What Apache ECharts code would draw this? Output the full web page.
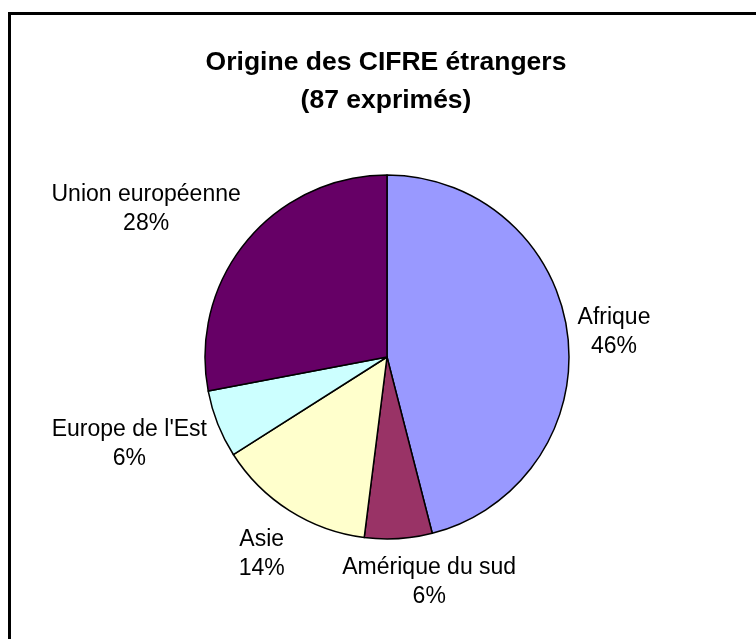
<!DOCTYPE html>
<html>
<head>
<meta charset="utf-8">
<title>Origine des CIFRE étrangers</title>
<script src="https://cdn.jsdelivr.net/npm/echarts@6/dist/echarts.min.js"></script>
<style>
  html, body { margin: 0; padding: 0; background: #fff; }
  #chart { width: 756px; height: 639px; }
</style>
</head>
<body>
<div id="chart"></div>
<script>
// chart data
const categories = ['Afrique', 'Amérique du sud', 'Asie', "Europe de l'Est", 'Union européenne'];
const percents = [46, 6, 14, 6, 28];
const sliceColors = ['#9999FF', '#993366', '#FFFFCC', '#CCFFFF', '#660066'];
const titleText = 'Origine des CIFRE étrangers\n(87 exprimés)';

// pie geometry (px)
const CX = 387, CY = 357, R = 182;
// excel puts its labels a bit irregularly: extra gap / angle tweak per label
const labelGap = [7, 3, 15, 7, 5];
const labelTurn = [1, -7, 0, 3, -8];

const chart = echarts.init(document.getElementById('chart'), null, { renderer: 'canvas' });

const total = percents.reduce((a, b) => a + b, 0);

chart.setOption({
  animation: false,
  backgroundColor: '#fff',
  title: {
    text: titleText,
    left: 386,
    top: 44,
    padding: 0,
    textAlign: 'center',
    textStyle: {
      fontFamily: 'Liberation Sans',
      fontSize: 26.5,
      fontWeight: 'bold',
      color: '#000',
      lineHeight: 38
    }
  },
  graphic: [{
    type: 'rect',
    silent: true,
    shape: { x: 9.5, y: 13.5, width: 800, height: 700 },
    style: { fill: 'none', stroke: '#000', lineWidth: 3 }
  }],
  series: [{
    type: 'pie',
    center: [CX, CY],
    radius: R,
    startAngle: 90,
    clockwise: true,
    percentPrecision: 0,
    avoidLabelOverlap: false,
    itemStyle: { borderColor: '#000', borderWidth: 1.5 },
    label: {
      show: true,
      position: 'outside',
      formatter: '{b}\n{d}%',
      fontFamily: 'Liberation Sans',
      fontSize: 23,
      lineHeight: 29,
      color: '#000'
    },
    labelLine: { show: false },
    emphasis: { disabled: true },
    labelLayout: function (p) {
      const i = p.dataIndex;
      let before = 0;
      for (let k = 0; k < i; k++) before += percents[k];
      const mid = (before + percents[i] / 2) / total * 360 + labelTurn[i];
      const a = mid * Math.PI / 180;
      const s = Math.sin(a), c = Math.cos(a);
      const w = p.labelRect.width, h = p.labelRect.height;
      const d = R + labelGap[i] + Math.abs(c) * h / 2 + Math.abs(s) * w / 2;
      return { x: CX + s * d, y: CY - c * d, align: 'center', verticalAlign: 'middle' };
    },
    data: categories.map((name, i) => ({
      name: name,
      value: percents[i],
      itemStyle: { color: sliceColors[i] }
    }))
  }]
});
</script>
</body>
</html>
